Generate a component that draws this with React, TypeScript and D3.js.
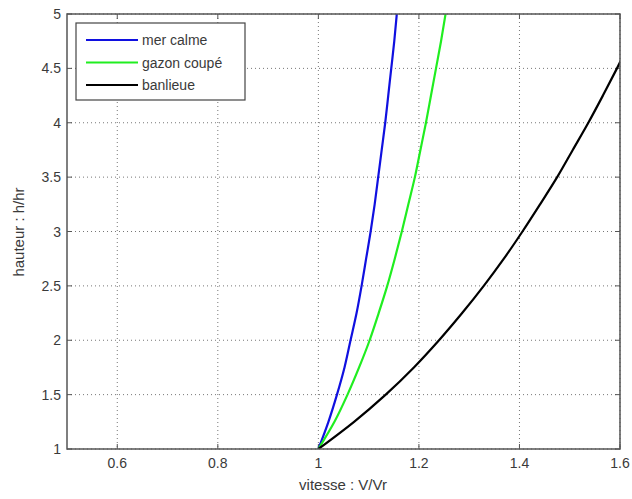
import React from "react";
import * as d3 from "d3";

const heights = [1, 1.25, 1.5, 1.75, 2, 2.25, 2.5, 2.75, 3, 3.25, 3.5, 3.75, 4, 4.25, 4.5, 4.75, 5];
const merCalme = [1, 1.020, 1.037, 1.052, 1.064, 1.076, 1.086, 1.095, 1.104, 1.112, 1.119, 1.126, 1.133, 1.139, 1.145, 1.151, 1.156];
const gazonCoupe = [1, 1.032, 1.058, 1.081, 1.102, 1.120, 1.137, 1.152, 1.166, 1.179, 1.192, 1.203, 1.214, 1.224, 1.234, 1.244, 1.253];
const banlieue = [1, 1.071, 1.134, 1.190, 1.240, 1.286, 1.329, 1.369, 1.406, 1.441, 1.475, 1.506, 1.537, 1.566, 1.594, 1.621, 1.647];

const seriesNames = ["mer calme", "gazon coupé", "banlieue"];
const seriesColors = ["#1010e0", "#20ee20", "#000000"];
const xTicks = [0.6, 0.8, 1, 1.2, 1.4, 1.6];
const yTicks = [1, 1.5, 2, 2.5, 3, 3.5, 4, 4.5, 5];

export default function App() {
  const W = 632, H = 499;
  const L = 67, R = 620, T = 14, B = 449;
  const x = d3.scaleLinear().domain([0.5, 1.6]).range([L, R]);
  const y = d3.scaleLinear().domain([1, 5]).range([B, T]);
  const all = [merCalme, gazonCoupe, banlieue];
  const line = (vals: number[]) =>
    d3.line<number>().x((v) => x(v)).y((_, i) => y(heights[i])).curve(d3.curveMonotoneY)(vals) || "";
  const font = "Liberation Sans, Arial, sans-serif";
  const textCol = "#3a3a3a";
  const axisCol = "#555";
  const fmt = (v: number) => String(v);
  return (
    <svg width={W} height={H} style={{ position: "absolute", left: 0, top: 0, background: "#fff" }}>
      <defs>
        <clipPath id="plot">
          <rect x={L} y={T} width={R - L} height={B - T} />
        </clipPath>
      </defs>
      <rect x={0} y={0} width={W} height={H} fill="#fff" />
      {/* grid */}
      {xTicks.map((t) => (
        <line key={"gx" + t} x1={x(t)} x2={x(t)} y1={T} y2={B} stroke="#777" strokeWidth={1} strokeDasharray="1,3" />
      ))}
      {yTicks.map((t) => (
        <line key={"gy" + t} x1={L} x2={R} y1={y(t)} y2={y(t)} stroke="#777" strokeWidth={1} strokeDasharray="1,3" />
      ))}
      {/* ticks */}
      {xTicks.map((t) => (
        <g key={"tx" + t}>
          <line x1={x(t)} x2={x(t)} y1={B} y2={B - 5} stroke={axisCol} />
          <line x1={x(t)} x2={x(t)} y1={T} y2={T + 5} stroke={axisCol} />
          <text x={x(t)} y={B + 19} textAnchor="middle" fontFamily={font} fontSize={14} fill={textCol}>{fmt(t)}</text>
        </g>
      ))}
      {yTicks.map((t) => (
        <g key={"ty" + t}>
          <line x1={L} x2={L + 5} y1={y(t)} y2={y(t)} stroke={axisCol} />
          <line x1={R} x2={R - 5} y1={y(t)} y2={y(t)} stroke={axisCol} />
          <text x={L - 6} y={y(t) + 5} textAnchor="end" fontFamily={font} fontSize={14} fill={textCol}>{fmt(t)}</text>
        </g>
      ))}
      {/* curves */}
      <g clipPath="url(#plot)">
        {all.map((vals, i) => (
          <path key={i} d={line(vals)} fill="none" stroke={seriesColors[i]} strokeWidth={2.2} />
        ))}
      </g>
      <rect x={L} y={T} width={R - L} height={B - T} fill="none" stroke={axisCol} strokeWidth={1.5} />
      {/* legend */}
      <rect x={76} y={23} width={169} height={77} fill="#fff" stroke="#444" strokeWidth={1.2} />
      {seriesNames.map((n, i) => (
        <g key={n}>
          <line x1={86} x2={138} y1={40 + i * 22.5} y2={40 + i * 22.5} stroke={seriesColors[i]} strokeWidth={2} />
          <text x={142} y={45 + i * 22.5} fontFamily={font} fontSize={14} fill={textCol}>{n}</text>
        </g>
      ))}
      {/* axis labels */}
      <text x={343} y={490} textAnchor="middle" fontFamily={font} fontSize={15} fill={textCol}>vitesse : V/Vr</text>
      <text transform={`translate(24,232) rotate(-90)`} textAnchor="middle" fontFamily={font} fontSize={15} fill={textCol}>hauteur : h/hr</text>
    </svg>
  );
}
